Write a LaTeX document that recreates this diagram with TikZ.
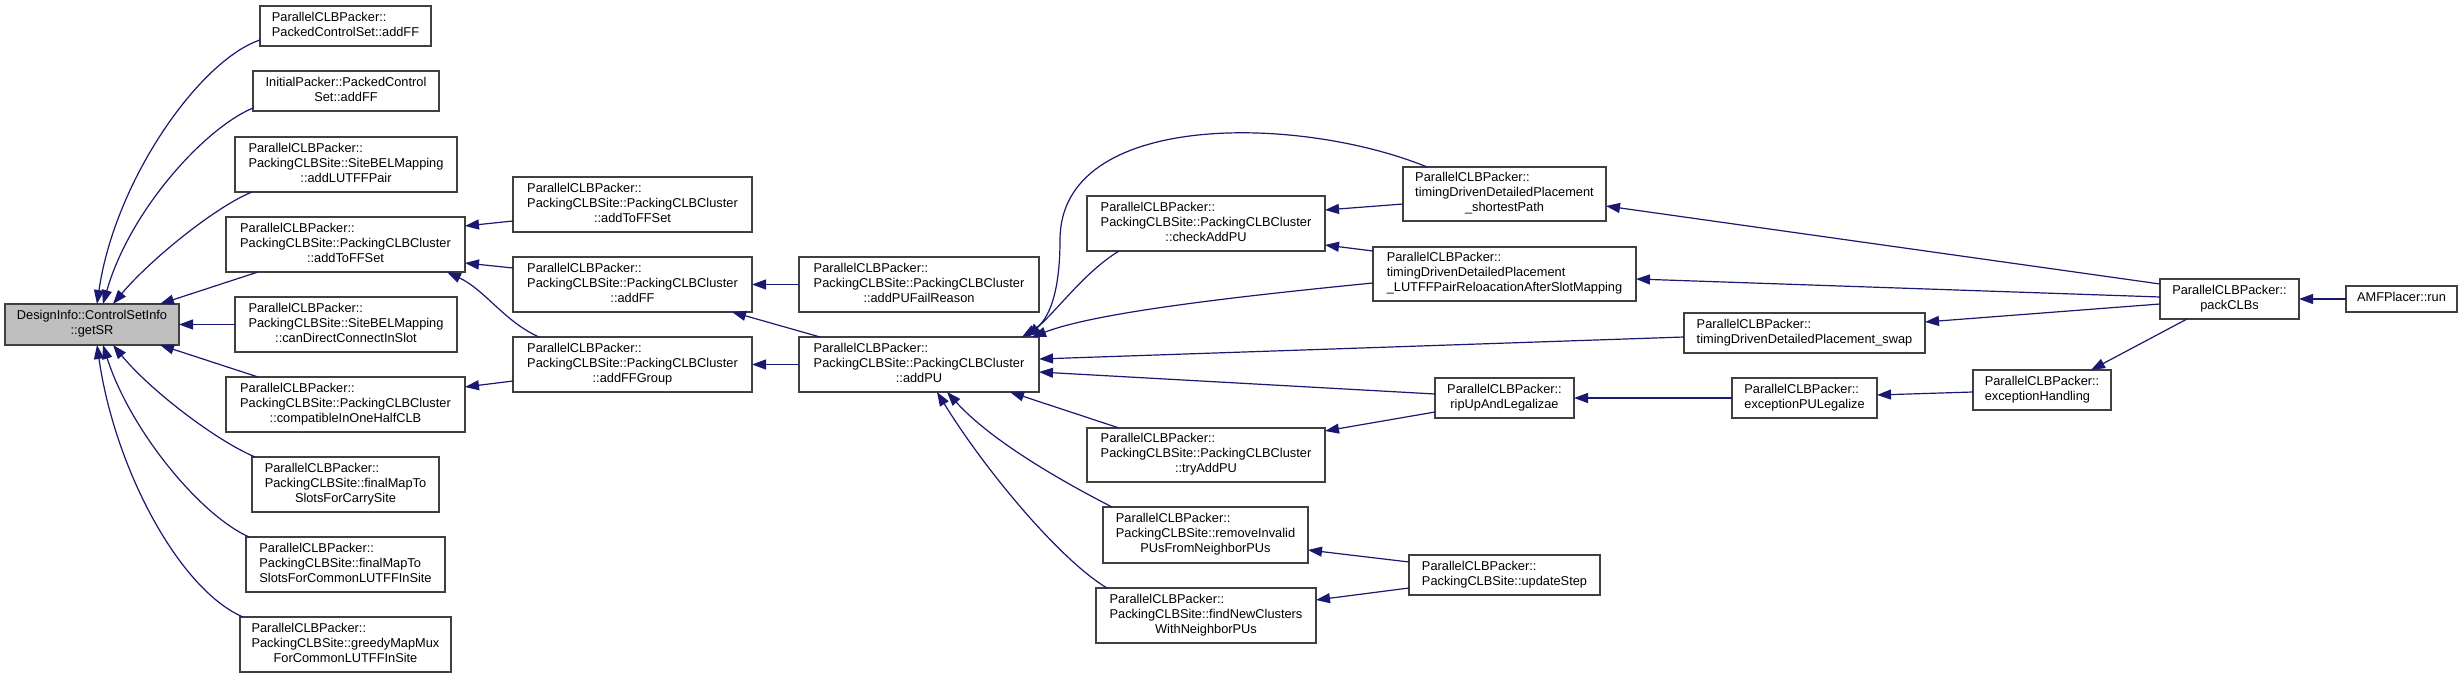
\documentclass[tikz,border=0pt]{standalone}
\usepackage{fontspec}
\setmainfont{Liberation Sans}
\usetikzlibrary{arrows.meta,calc}
\definecolor{edgeblue}{HTML}{191970}
\definecolor{boxline}{HTML}{404040}
\definecolor{rootfill}{HTML}{BFBFBF}
\newcommand\tl[1]{\begin{tabular}{@{}l@{}}#1\end{tabular}}
\newcommand\cl[1]{\multicolumn{1}{@{}c@{}}{#1}}
\newcommand\gn[7][white]{\node[box,fill=#1,minimum width={0.5pt*(#5-#3)},minimum height={0.5pt*(#6-#4)}] (#2) at ({(#3+#5)/2},{(#4+#6)/2}) {\tl{#7}};}
\tikzset{
  box/.style={draw=boxline,line width=0.7pt,inner sep=0pt,outer sep=0pt,font=\fontsize{6.4}{7.5}\selectfont},
  edge/.style={draw=edgeblue,line width=0.6pt,-{Triangle[length=7pt,width=5pt]}}
}
\begin{document}
\begin{tikzpicture}[x=0.5pt,y=-0.5pt]
\fill[white] (0,0) rectangle (2463,678);
\useasboundingbox (0,0) rectangle (2463,678);
% nodes
\gn[rootfill]{getSR}{5}{304}{179}{345}{DesignInfo::ControlSetInfo\\\cl{::getSR}}
\gn{pcsAddFF}{260}{6}{431}{46}{ParallelCLBPacker::\\PackedControlSet::addFF}
\gn{ipAddFF}{253}{71}{439}{111}{InitialPacker::PackedControl\\\cl{Set::addFF}}
\gn{addLUTFFPair}{235}{137}{457}{192}{ParallelCLBPacker::\\PackingCLBSite::SiteBELMapping\\\cl{::addLUTFFPair}}
\gn{addToFFSetA}{226}{217}{465}{272}{ParallelCLBPacker::\\PackingCLBSite::PackingCLBCluster\\\cl{::addToFFSet}}
\gn{canDirect}{235}{297}{457}{352}{ParallelCLBPacker::\\PackingCLBSite::SiteBELMapping\\\cl{::canDirectConnectInSlot}}
\gn{compatible}{226}{377}{465}{432}{ParallelCLBPacker::\\PackingCLBSite::PackingCLBCluster\\\cl{::compatibleInOneHalfCLB}}
\gn{carrySite}{252}{457}{439}{512}{ParallelCLBPacker::\\PackingCLBSite::finalMapTo\\\cl{SlotsForCarrySite}}
\gn{commonLUTFF}{246}{537}{445}{592}{ParallelCLBPacker::\\PackingCLBSite::finalMapTo\\\cl{SlotsForCommonLUTFFInSite}}
\gn{greedy}{240}{617}{451}{672}{ParallelCLBPacker::\\PackingCLBSite::greedyMapMux\\\cl{ForCommonLUTFFInSite}}
\gn{addToFFSetB}{513}{177}{752}{232}{ParallelCLBPacker::\\PackingCLBSite::PackingCLBCluster\\\cl{::addToFFSet}}
\gn{addFF}{513}{257}{752}{312}{ParallelCLBPacker::\\PackingCLBSite::PackingCLBCluster\\\cl{::addFF}}
\gn{addFFGroup}{513}{337}{752}{392}{ParallelCLBPacker::\\PackingCLBSite::PackingCLBCluster\\\cl{::addFFGroup}}
\gn{addPUFail}{799}{257}{1039}{312}{ParallelCLBPacker::\\PackingCLBSite::PackingCLBCluster\\\cl{::addPUFailReason}}
\gn{addPU}{799}{337}{1039}{392}{ParallelCLBPacker::\\PackingCLBSite::PackingCLBCluster\\\cl{::addPU}}
\gn{checkAddPU}{1087}{196}{1325}{251}{ParallelCLBPacker::\\PackingCLBSite::PackingCLBCluster\\\cl{::checkAddPU}}
\gn{shortest}{1403}{167}{1606}{221}{ParallelCLBPacker::\\timingDrivenDetailedPlacement\\\cl{\_shortestPath}}
\gn{lutffReloc}{1373}{247}{1636}{301}{ParallelCLBPacker::\\timingDrivenDetailedPlacement\\\_LUTFFPairReloacationAfterSlotMapping}
\gn{swap}{1684}{313}{1925}{353}{ParallelCLBPacker::\\timingDrivenDetailedPlacement\_swap}
\gn{ripUp}{1435}{378}{1574}{418}{ParallelCLBPacker::\\\cl{ripUpAndLegalizae}}
\gn{tryAddPU}{1087}{428}{1325}{482}{ParallelCLBPacker::\\PackingCLBSite::PackingCLBCluster\\\cl{::tryAddPU}}
\gn{removeInvalid}{1103}{507}{1308}{563}{ParallelCLBPacker::\\PackingCLBSite::removeInvalid\\\cl{PUsFromNeighborPUs}}
\gn{findNew}{1096}{588}{1316}{643}{ParallelCLBPacker::\\PackingCLBSite::findNewClusters\\\cl{WithNeighborPUs}}
\gn{updateStep}{1409}{555}{1600}{595}{ParallelCLBPacker::\\PackingCLBSite::updateStep}
\gn{excPU}{1732}{378}{1877}{418}{ParallelCLBPacker::\\exceptionPULegalize}
\gn{excHandling}{1973}{370}{2111}{410}{ParallelCLBPacker::\\exceptionHandling}
\gn{packCLBs}{2160}{279}{2299}{319}{ParallelCLBPacker::\\\cl{packCLBs}}
\gn{amfRun}{2346}{286}{2457}{312}{AMFPlacer::run}
% edges into getSR
\draw[edge] ($(pcsAddFF.north west)+(0,34)$) .. controls (200,60) and (115,180) .. ($(getSR.north west)+(92,0)$);
\draw[edge] ($(ipAddFF.north west)+(0,37)$) .. controls (205,128) and (130,210) .. ($(getSR.north west)+(98,0)$);
\draw[edge] ($(addLUTFFPair.north west)+(17,55)$) .. controls (215,207) and (150,260) .. ($(getSR.north west)+(108,0)$);
\draw[edge] ($(addToFFSetA.north west)+(32,55)$) -- ($(getSR.north west)+(155,0)$);
\draw[edge] (canDirect.west) -- (getSR.east);
\draw[edge] ($(compatible.north west)+(32,0)$) -- ($(getSR.north west)+(155,41)$);
\draw[edge] ($(carrySite.north west)+(3,0)$) .. controls (215,440) and (150,390) .. ($(getSR.north west)+(108,41)$);
\draw[edge] ($(commonLUTFF.north west)+(3,0)$) .. controls (200,515) and (130,430) .. ($(getSR.north west)+(98,41)$);
\draw[edge] ($(greedy.north west)+(3,0)$) .. controls (180,590) and (115,470) .. ($(getSR.north west)+(92,41)$);
% second column
\draw[edge] ($(addToFFSetB.north west)+(0,44)$) -- ($(addToFFSetA.north west)+(239,9)$);
\draw[edge] ($(addFF.north west)+(0,11)$) -- ($(addToFFSetA.north west)+(239,46)$);
\draw[edge] ($(addFFGroup.north west)+(26,0)$) .. controls (505,322) and (485,290) .. ($(addToFFSetA.north west)+(221,55)$);
\draw[edge] ($(addFFGroup.north west)+(0,44)$) -- ($(compatible.north west)+(239,10)$);
% third column
\draw[edge] (addPUFail.west) -- (addFF.east);
\draw[edge] ($(addPU.north west)+(21,0)$) -- ($(addFF.north west)+(219,55)$);
\draw[edge] (addPU.west) -- (addFFGroup.east);
% into addPU
\draw[edge] ($(shortest.north west)+(24,0)$) .. controls (1300,115) and (1060,110) .. (1060,240) .. controls (1060,290) and (1050,320) .. ($(addPU.north west)+(223,0)$);
\draw[edge] ($(checkAddPU.north west)+(32,55)$) .. controls (1085,272) and (1062,305) .. ($(addPU.north west)+(228,0)$);
\draw[edge] ($(lutffReloc.north west)+(0,36)$) .. controls (1200,300) and (1090,315) .. ($(addPU.north west)+(233,0)$);
\draw[edge] ($(swap.north west)+(0,24)$) -- ($(addPU.north west)+(240,22)$);
\draw[edge] ($(ripUp.north west)+(0,16)$) -- ($(addPU.north west)+(240,35)$);
\draw[edge] ($(tryAddPU.north west)+(32,0)$) -- ($(addPU.north west)+(211,55)$);
\draw[edge] ($(removeInvalid.north west)+(9,0)$) .. controls (1075,488) and (995,445) .. ($(addPU.north west)+(148,55)$);
\draw[edge] ($(findNew.north west)+(11,0)$) .. controls (1060,560) and (985,470) .. ($(addPU.north west)+(138,55)$);
% other
\draw[edge] ($(shortest.north west)+(0,37)$) -- ($(checkAddPU.north west)+(238,14)$);
\draw[edge] ($(lutffReloc.north west)+(0,4)$) -- ($(checkAddPU.north west)+(238,49)$);
\draw[edge] ($(ripUp.north west)+(0,34)$) -- ($(tryAddPU.north west)+(238,3)$);
\draw[edge] (excPU.west) -- (ripUp.east);
\draw[edge] ($(updateStep.north west)+(0,7)$) -- ($(removeInvalid.north west)+(205,43)$);
\draw[edge] ($(updateStep.north west)+(0,33)$) -- ($(findNew.north west)+(220,12)$);
\draw[edge] ($(excHandling.north west)+(0,22)$) -- ($(excPU.north west)+(145,17)$);
\draw[edge] ($(packCLBs.north west)+(27,40)$) -- ($(excHandling.north west)+(118,0)$);
\draw[edge] ($(packCLBs.north west)+(0,25)$) -- ($(swap.north west)+(241,9)$);
\draw[edge] ($(packCLBs.north west)+(0,5)$) -- ($(shortest.north west)+(203,39)$);
\draw[edge] ($(packCLBs.north west)+(0,18)$) -- ($(lutffReloc.north west)+(263,32)$);
\draw[edge] (amfRun.west) -- (packCLBs.east);
\end{tikzpicture}
\end{document}
